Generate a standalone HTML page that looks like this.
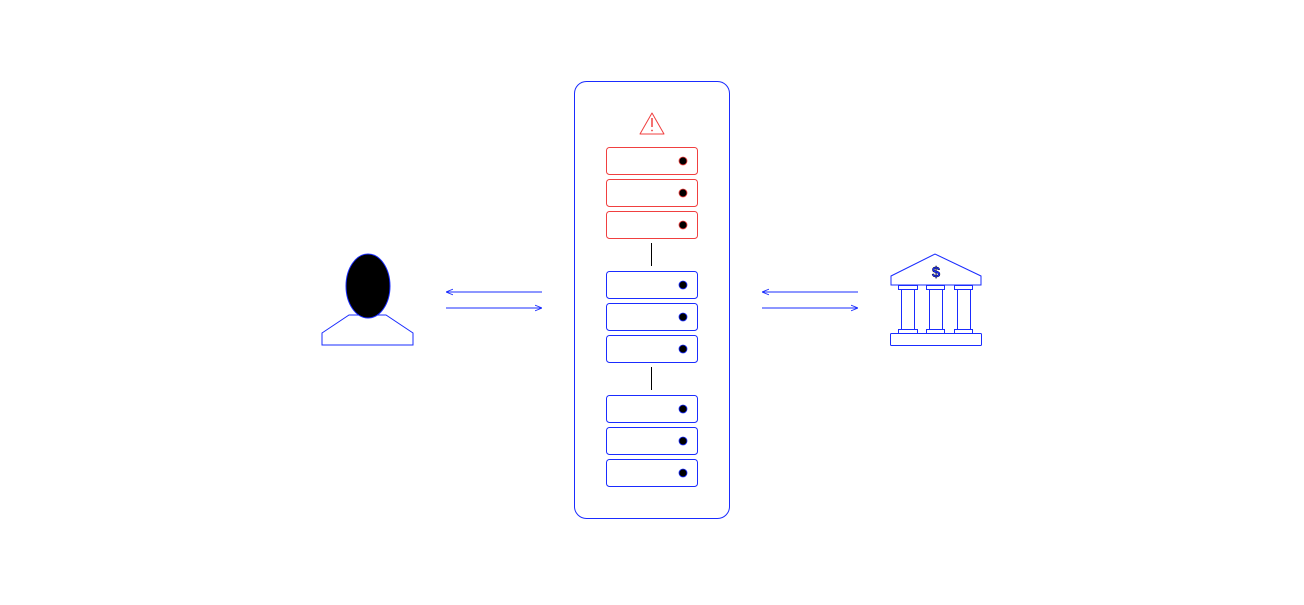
<!DOCTYPE html>
<html><head><style>body{margin:0;background:#fff}</style></head><body>
<svg width="1304" height="600" viewBox="0 0 1304 600" xmlns="http://www.w3.org/2000/svg">
<defs>
<marker id="a" viewBox="0 0 10 10" refX="10" refY="5" markerWidth="7" markerHeight="7" orient="auto-start-reverse" markerUnits="userSpaceOnUse"><path d="M0,1 L10,5 L0,9" fill="none" stroke="#1a2cff" stroke-width="1.2"/></marker>
</defs>
<!-- person -->
<path d="M322,333 L349,315 L386,315 L413,333 L413,345 L322,345 Z" fill="#fff" stroke="#1a2cff" stroke-width="1"/>
<ellipse cx="368" cy="286" rx="22" ry="32" fill="#000" stroke="#1a2cff" stroke-width="1"/>
<!-- arrows -->
<g stroke="#1a2cff" stroke-width="1">
<line x1="542" y1="292" x2="446" y2="292" marker-end="url(#a)"/>
<line x1="446" y1="308" x2="542" y2="308" marker-end="url(#a)"/>
<line x1="858" y1="292" x2="762" y2="292" marker-end="url(#a)"/>
<line x1="762" y1="308" x2="858" y2="308" marker-end="url(#a)"/>
</g>
<!-- container -->
<rect x="574.5" y="81.5" width="155" height="437" rx="12" fill="none" stroke="#1a2cff" stroke-width="1"/>
<path d="M652,113 L664,134 L640,134 Z" fill="none" stroke="#f04040" stroke-width="1" stroke-linejoin="round"/>
<line x1="652" y1="118" x2="652" y2="127" stroke="#f04040" stroke-width="1.5"/>
<circle cx="652" cy="130.5" r="0.9" fill="#f04040"/>
<g stroke-width="1">
<rect x="606.5" y="147.5" width="91" height="27" rx="3" fill="none" stroke="#f04040"/>
<rect x="606.5" y="179.5" width="91" height="27" rx="3" fill="none" stroke="#f04040"/>
<rect x="606.5" y="211.5" width="91" height="27" rx="3" fill="none" stroke="#f04040"/>
<rect x="606.5" y="271.5" width="91" height="27" rx="3" fill="none" stroke="#1a2cff"/>
<rect x="606.5" y="303.5" width="91" height="27" rx="3" fill="none" stroke="#1a2cff"/>
<rect x="606.5" y="335.5" width="91" height="27" rx="3" fill="none" stroke="#1a2cff"/>
<rect x="606.5" y="395.5" width="91" height="27" rx="3" fill="none" stroke="#1a2cff"/>
<rect x="606.5" y="427.5" width="91" height="27" rx="3" fill="none" stroke="#1a2cff"/>
<rect x="606.5" y="459.5" width="91" height="27" rx="3" fill="none" stroke="#1a2cff"/>
</g>
<g fill="#000">
<circle cx="683" cy="161" r="4" stroke="#f04040" stroke-width="0.8"/>
<circle cx="683" cy="193" r="4" stroke="#f04040" stroke-width="0.8"/>
<circle cx="683" cy="225" r="4" stroke="#f04040" stroke-width="0.8"/>
<circle cx="683" cy="285" r="4" stroke="#1a2cff" stroke-width="0.8"/>
<circle cx="683" cy="317" r="4" stroke="#1a2cff" stroke-width="0.8"/>
<circle cx="683" cy="349" r="4" stroke="#1a2cff" stroke-width="0.8"/>
<circle cx="683" cy="409" r="4" stroke="#1a2cff" stroke-width="0.8"/>
<circle cx="683" cy="441" r="4" stroke="#1a2cff" stroke-width="0.8"/>
<circle cx="683" cy="473" r="4" stroke="#1a2cff" stroke-width="0.8"/>
</g>
<line x1="651.5" y1="243" x2="651.5" y2="266" stroke="#000" stroke-width="1"/>
<line x1="651.5" y1="367" x2="651.5" y2="390" stroke="#000" stroke-width="1"/>
<!-- bank -->
<g fill="#fff" stroke="#1a2cff" stroke-width="1">
<path d="M891,276 L935,254 L981,276 L981,285 L891,285 Z"/>
<rect x="898.5" y="285.5" width="19" height="4"/>
<rect x="926.5" y="285.5" width="18" height="4"/>
<rect x="954.5" y="285.5" width="18" height="4"/>
<rect x="901.5" y="289.5" width="13" height="40"/>
<rect x="929.5" y="289.5" width="13" height="40"/>
<rect x="957.5" y="289.5" width="13" height="40"/>
<rect x="898.5" y="329.5" width="19" height="4"/>
<rect x="926.5" y="329.5" width="18" height="4"/>
<rect x="954.5" y="329.5" width="18" height="4"/>
<rect x="890.5" y="333.5" width="91" height="12" rx="1"/>
</g>
<text x="936" y="277" font-family="Liberation Sans, sans-serif" font-size="15" font-weight="bold" fill="#1a2cff" stroke="#000" stroke-width="0.4" text-anchor="middle">$</text>
</svg>
</body></html>
